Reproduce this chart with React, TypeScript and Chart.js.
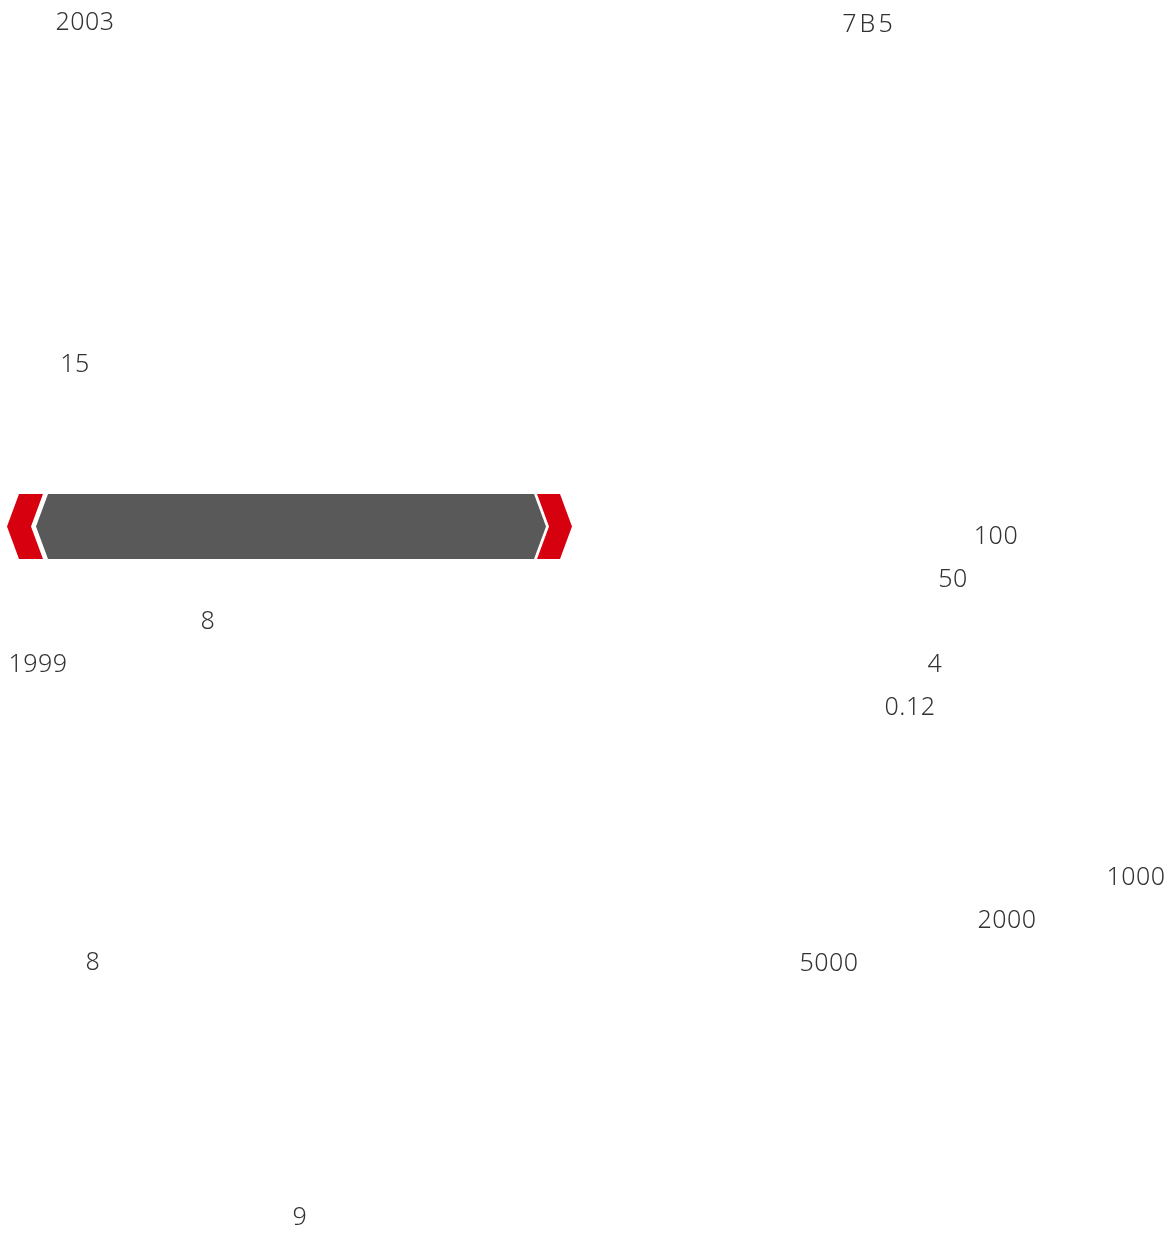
import React, { useEffect, useRef } from "react";
import { Chart, registerables } from "chart.js";

Chart.register(...registerables);

// Text labels scattered over the page (value-space positions = page units)
const labelTexts = ["2003", "7B5", "15", "100", "50", "8", "1999", "4", "0.12", "1000", "2000", "5000", "8", "9"];
const labelX = [85, 869, 75, 996, 953, 208, 38, 935, 910, 1136, 1007, 829, 93, 300];
const labelY = [23, 25, 365, 537, 580, 622, 665, 665, 708, 878, 921, 964, 963, 1218];

// Banner band: body extent and chevron extents
const bannerBody = [48, 534];
const bannerTop = 494;
const bannerBottom = 559;
const bannerTip = 12;
const leftChevron = [19, 43];
const rightChevron = [537, 560];

const W = 1173;
const H = 1234;

const bannerPlugin = {
  id: "bannerPlugin",
  beforeDatasetsDraw(chart: any) {
    const { ctx, scales } = chart;
    const xs = scales.x;
    const ys = scales.y;
    const px = (v: number) => xs.getPixelForValue(v);
    const py = (v: number) => ys.getPixelForValue(v);
    const mid = (bannerTop + bannerBottom) / 2;
    // leftDir / rightDir: -1 = tip points left, +1 = tip points right
    const shape = (a: number, b: number, leftDir: number, rightDir: number, color: string) => {
      ctx.beginPath();
      ctx.moveTo(px(a), py(bannerTop));
      ctx.lineTo(px(b), py(bannerTop));
      ctx.lineTo(px(b + rightDir * bannerTip), py(mid));
      ctx.lineTo(px(b), py(bannerBottom));
      ctx.lineTo(px(a), py(bannerBottom));
      ctx.lineTo(px(a + leftDir * bannerTip), py(mid));
      ctx.closePath();
      ctx.fillStyle = color;
      ctx.fill();
    };
    ctx.save();
    shape(bannerBody[0], bannerBody[1], -1, 1, "#595959");
    shape(leftChevron[0], leftChevron[1], -1, -1, "#D7000F");
    shape(rightChevron[0], rightChevron[1], 1, 1, "#D7000F");
    ctx.restore();
  },
};

const labelPlugin = {
  id: "labelPlugin",
  afterDatasetsDraw(chart: any) {
    const { ctx } = chart;
    const meta = chart.getDatasetMeta(0);
    ctx.save();
    ctx.font = '300 25px "Noto Sans"';
    ctx.fillStyle = "#333333";
    ctx.textAlign = "center";
    ctx.textBaseline = "middle";
    meta.data.forEach((el: any, i: number) => {
      const t = labelTexts[i];
      (ctx as any).letterSpacing = t === "7B5" ? "3px" : "0.5px";
      ctx.fillText(t, el.x, el.y);
    });
    ctx.restore();
  },
};

export default function App() {
  const ref = useRef<HTMLCanvasElement | null>(null);
  useEffect(() => {
    if (!ref.current) return;
    const chart = new Chart(ref.current, {
      type: "scatter",
      data: {
        datasets: [
          {
            data: labelX.map((x, i) => ({ x, y: labelY[i] })),
            pointRadius: 0,
            pointHoverRadius: 0,
            backgroundColor: "transparent",
            borderColor: "transparent",
          },
        ],
      },
      options: {
        animation: false,
        responsive: false,
        devicePixelRatio: 1,
        layout: { padding: 0 },
        events: [],
        plugins: { legend: { display: false }, tooltip: { enabled: false } },
        scales: {
          x: { type: "linear", min: 0, max: W, display: false },
          y: { type: "linear", min: 0, max: H, reverse: true, display: false },
        },
      },
      plugins: [bannerPlugin, labelPlugin],
    });
    return () => chart.destroy();
  }, []);
  return (
    <div style={{ position: "fixed", left: 0, top: 0, width: W, height: H, background: "#fff" }}>
      <canvas ref={ref} width={W} height={H} style={{ display: "block" }} />
    </div>
  );
}
